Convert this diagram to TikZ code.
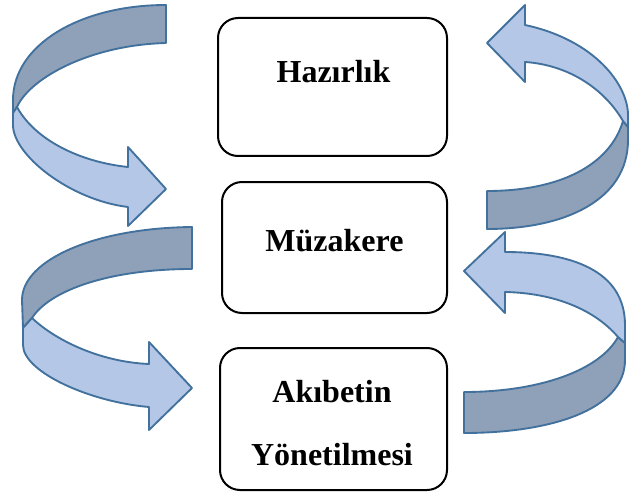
\documentclass[tikz,border=0pt]{standalone}
\usepackage{fontspec}
\setmainfont{Liberation Serif}
\usetikzlibrary{arrows}
\definecolor{backblue}{HTML}{8FA0B9}
\definecolor{frontblue}{HTML}{B4C7E7}
\definecolor{rimblue}{HTML}{41719C}

\begin{document}
\begin{tikzpicture}[x=0.75pt,y=-0.75pt,
  phase/.style={draw, line width=1.5pt, rounded corners=15pt, inner sep=0pt},
  title/.style={inner sep=0pt, font=\fontsize{24}{47}\selectfont\bfseries},
  backside/.style={fill=backblue, draw=rimblue, line width=1.4pt, line join=round},
  frontside/.style={fill=frontblue, draw=rimblue, line width=1.4pt, line join=round}]
\useasboundingbox[fill=white] (0,0) rectangle (629,492);

\filldraw[backside] (166,5) -- (166,43) .. controls (90,45) and (30,78) .. (17,107)
    -- (13,113) -- (13,100) .. controls (13,45) and (80,5) .. (166,5) -- cycle;
\filldraw[frontside] (17,107) .. controls (35,140) and (80,162) .. (128,167)
    -- (128,147) -- (166,189) -- (128,226) -- (128,207)
    .. controls (70,200) and (13,155) .. (13,125) -- (13,113) -- cycle;

\filldraw[backside] (192,227) -- (192,269) .. controls (110,269) and (50,290) .. (32,318)
    -- (23,328) -- (22,300) .. controls (22,260) and (95,228) .. (192,227) -- cycle;
\filldraw[frontside] (32,318) .. controls (55,340) and (100,362) .. (149,364)
    -- (149,342) -- (192,388) -- (149,430) -- (149,407)
    .. controls (90,402) and (23,372) .. (23,345) -- (23,328) -- cycle;

\filldraw[backside] (487,191) -- (487,229) .. controls (565,229) and (628,200) .. (628,140)
    -- (628,127) -- (623,121) .. controls (610,165) and (560,191) .. (487,191) -- cycle;
\filldraw[frontside] (623,121) .. controls (605,90) and (570,65) .. (525,62)
    -- (525,82) -- (487,43) -- (525,5) -- (525,25)
    .. controls (595,40) and (628,85) .. (628,115) -- (628,127) -- cycle;

\filldraw[backside] (464,392) -- (464,433) .. controls (550,433) and (625,410) .. (625,360)
    -- (625,343) -- (618,337) .. controls (600,370) and (540,392) .. (464,392) -- cycle;
\filldraw[frontside] (618,337) .. controls (595,310) and (555,293) .. (505,292)
    -- (505,313) -- (464,271) -- (505,232) -- (505,252)
    .. controls (570,252) and (625,270) .. (625,325) -- (625,343) -- cycle;

\node[phase, minimum width=171.75pt, minimum height=103.5pt] (hazirlik) at (332.5,87) {};
\node[phase, minimum width=168.75pt, minimum height=98.25pt] (muzakere) at (334.5,247.5) {};
\node[phase, minimum width=170.25pt, minimum height=106.5pt] (akibet) at (333.5,419) {};

\node[title, anchor=base] (hazirlikLbl) at (333.5,83) {Hazırlık};
\node[title, anchor=base] (muzakereLbl) at (334.5,251) {Müzakere};
\node[title, align=center] (akibetLbl) at (332,423) {Akıbetin\\Yönetilmesi};
\end{tikzpicture}
\end{document}
